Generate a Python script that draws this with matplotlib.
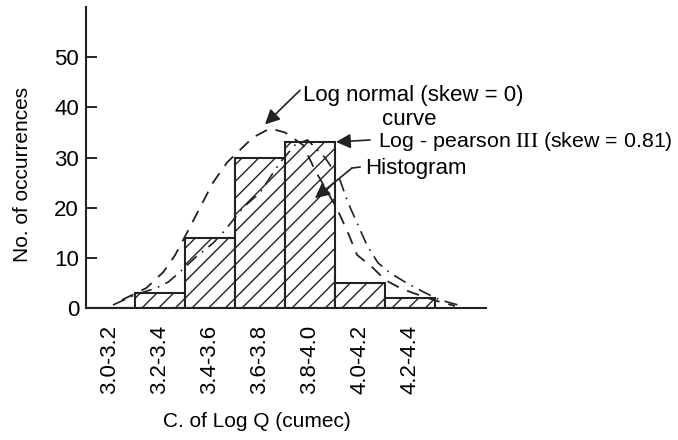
import numpy as np
from matplotlib import pyplot as plt

plt.rcParams['font.family'] = ['Liberation Sans', 'DejaVu Sans']
plt.rcParams['mathtext.fontset'] = 'stix'
plt.rcParams['hatch.linewidth'] = 1.0

# class intervals and counts
bins = ['3.0-3.2', '3.2-3.4', '3.4-3.6', '3.6-3.8', '3.8-4.0', '4.0-4.2', '4.2-4.4']
counts = [0, 3, 14, 30, 33, 5, 2]

# log normal curve (x in class-index units)
ln_x = [0.24, 0.73, 1.07, 1.3, 1.54, 1.8, 2.06, 2.34, 2.6, 2.86, 3.2, 3.5, 3.86, 4.1, 4.3,
        4.5, 4.6, 4.76, 4.94, 5.26, 5.5, 5.8, 6.06, 6.5, 6.9]
ln_y = [1.6, 4, 7.2, 10.5, 15, 20, 25, 29, 31.5, 34, 35.8, 35, 32.5, 27.5, 24,
        20.5, 18.5, 15, 10.6, 8, 5.6, 4, 3, 1.5, 0.4]

# log pearson III curve
lp_x = [0.06, 0.5, 0.93, 1.17, 1.4, 1.7, 2.07, 2.3, 2.66, 3.0, 3.2, 3.4, 3.7, 3.95, 4.3,
        4.6, 4.76, 4.94, 5.14, 5.36, 5.6, 5.93, 6.27, 6.6, 7.0]
lp_y = [0.6, 2.6, 4, 5.2, 7.2, 10, 13, 15.5, 20, 23, 26, 29, 32.5, 33.5, 30,
        25.5, 21, 17, 12.5, 9, 7, 5, 3.2, 1.6, 0.5]

fig = plt.figure(figsize=(6.78, 4.4), dpi=100)
ax = fig.add_axes([0.1268, 0.3, 0.59, 0.684])

pos = np.arange(len(bins))
ax.bar(pos, counts, width=1.0, color='white', edgecolor='#222222', linewidth=1.5,
       hatch='//', zorder=2)

ax.plot(ln_x, ln_y, color='#222222', lw=1.3, linestyle=(0, (7, 5)), zorder=3)
ax.plot(lp_x, lp_y, color='#222222', lw=1.2, linestyle=(0, (8, 4, 1, 4)), zorder=3)

ax.set_xlim(-0.48, 7.52)
ax.set_ylim(0, 60)
ax.set_yticks(range(0, 51, 10))
ax.set_xticks(pos)
ax.set_xticklabels(bins, rotation=90, fontsize=16)
ax.tick_params(axis='y', direction='in', length=8, width=1.2, labelsize=16, pad=5)
ax.tick_params(axis='x', length=0, pad=12)

for side in ['top', 'right']:
    ax.spines[side].set_visible(False)
for side in ['left', 'bottom']:
    ax.spines[side].set_linewidth(1.5)
    ax.spines[side].set_color('#222222')

ax.set_ylabel('No. of occurrences', fontsize=15)
ax.yaxis.set_label_coords(-0.135, 0.445)
ax.set_xlabel('C. of Log Q (cumec)', fontsize=15)
ax.xaxis.set_label_coords(0.4275, -0.345)

arrow = dict(arrowstyle='-|>', color='#222222', lw=1.2, mutation_scale=22,
             shrinkA=0, shrinkB=0)

ax.text(3.86, 42.4, 'Log normal (skew = 0)', fontsize=16, va='center', ha='left')
ax.text(5.44, 37.5, 'curve', fontsize=16, va='center', ha='left')
ax.annotate('', xy=(3.1, 36.6), xytext=(3.8, 43.4), arrowprops=arrow, annotation_clip=False)

ax.text(5.36, 33.1, r'Log - pearson $\mathrm{III}$ (skew = 0.81)', fontsize=15.4,
        va='center', ha='left')
ax.annotate('', xy=(4.52, 33.1), xytext=(5.2, 33.5), arrowprops=arrow, annotation_clip=False)

ax.text(5.1, 27.9, 'Histogram', fontsize=16, va='center', ha='left')
ax.plot([5.0, 4.84], [28.1, 27.9], color='#222222', lw=1.2, clip_on=False, zorder=4)
ax.annotate('', xy=(4.1, 21.9), xytext=(4.84, 27.9), arrowprops=arrow, annotation_clip=False)

plt.savefig('out.png', dpi=100)
